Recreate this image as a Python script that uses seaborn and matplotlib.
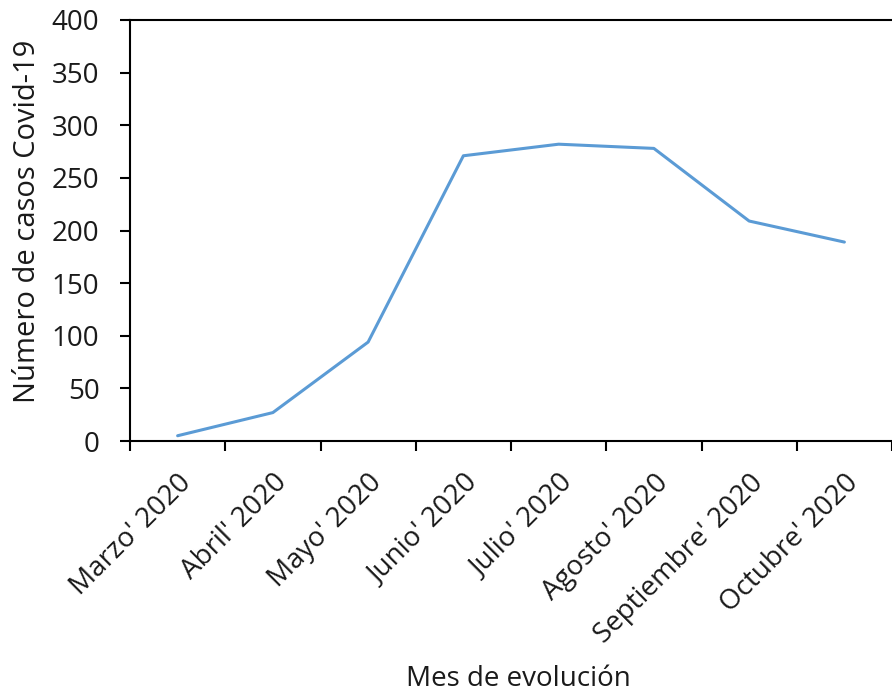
import matplotlib
matplotlib.use("Agg")
import matplotlib.pyplot as plt
import seaborn as sns
import numpy as np
import pandas as pd

months = ["Marzo' 2020", "Abril' 2020", "Mayo' 2020", "Junio' 2020",
          "Julio' 2020", "Agosto' 2020", "Septiembre' 2020", "Octubre' 2020"]
cases = [5, 27, 94, 271, 282, 278, 209, 189]
yticks = [0, 50, 100, 150, 200, 250, 300, 350, 400]

sns.set_theme(style="white")
plt.rcParams['font.family'] = ['Open Sans', 'DejaVu Sans']

df = pd.DataFrame({"pos": np.arange(len(months)), "casos": cases})

FS = 20
TXT = "#1a1a1a"

fig = plt.figure(figsize=(8.92, 6.94), dpi=100)
ax = fig.add_axes([130/892, (694-441)/694, 1 - 130/892, (441-20)/694])
sns.lineplot(data=df, x="pos", y="casos", ax=ax, color="#5B9BD5", linewidth=2.2)

ax.set_ylim(0, 400)
ax.set_xlim(-0.5, 7.41)
ax.set_yticks(yticks)
ax.set_yticklabels([str(v) for v in yticks], fontsize=FS, color=TXT)
ax.set_xticks(np.arange(len(months) + 1) - 0.5)
ax.set_xticklabels([])
ax.set_xticks(np.arange(len(months)), minor=True)
ax.set_xticklabels(months, minor=True, rotation=45, ha="right",
                   rotation_mode="anchor", fontsize=FS, color=TXT)
ax.tick_params(axis="x", which="minor", length=0, pad=20)
ax.tick_params(axis="x", which="major", length=7, width=1.5, color="black", direction="out")
ax.tick_params(axis="y", length=7, width=1.5, color="black", direction="out", pad=15)
ax.tick_params(bottom=True, left=True)

for s in ["left", "bottom", "top"]:
    ax.spines[s].set_visible(True)
    ax.spines[s].set_color("black")
    ax.spines[s].set_linewidth(1.5)
ax.spines["right"].set_visible(False)

ax.set_ylabel("Número de casos Covid-19", fontsize=21, color=TXT)
ax.yaxis.set_label_coords(42/892, (694-221)/694, transform=fig.transFigure)
ax.set_xlabel("Mes de evolución", fontsize=FS, color=TXT)
ax.xaxis.set_label_coords(518/892, (694-686)/694, transform=fig.transFigure)
ax.xaxis.label.set_va("baseline")

fig.savefig("out.png", dpi=100, facecolor="white")
